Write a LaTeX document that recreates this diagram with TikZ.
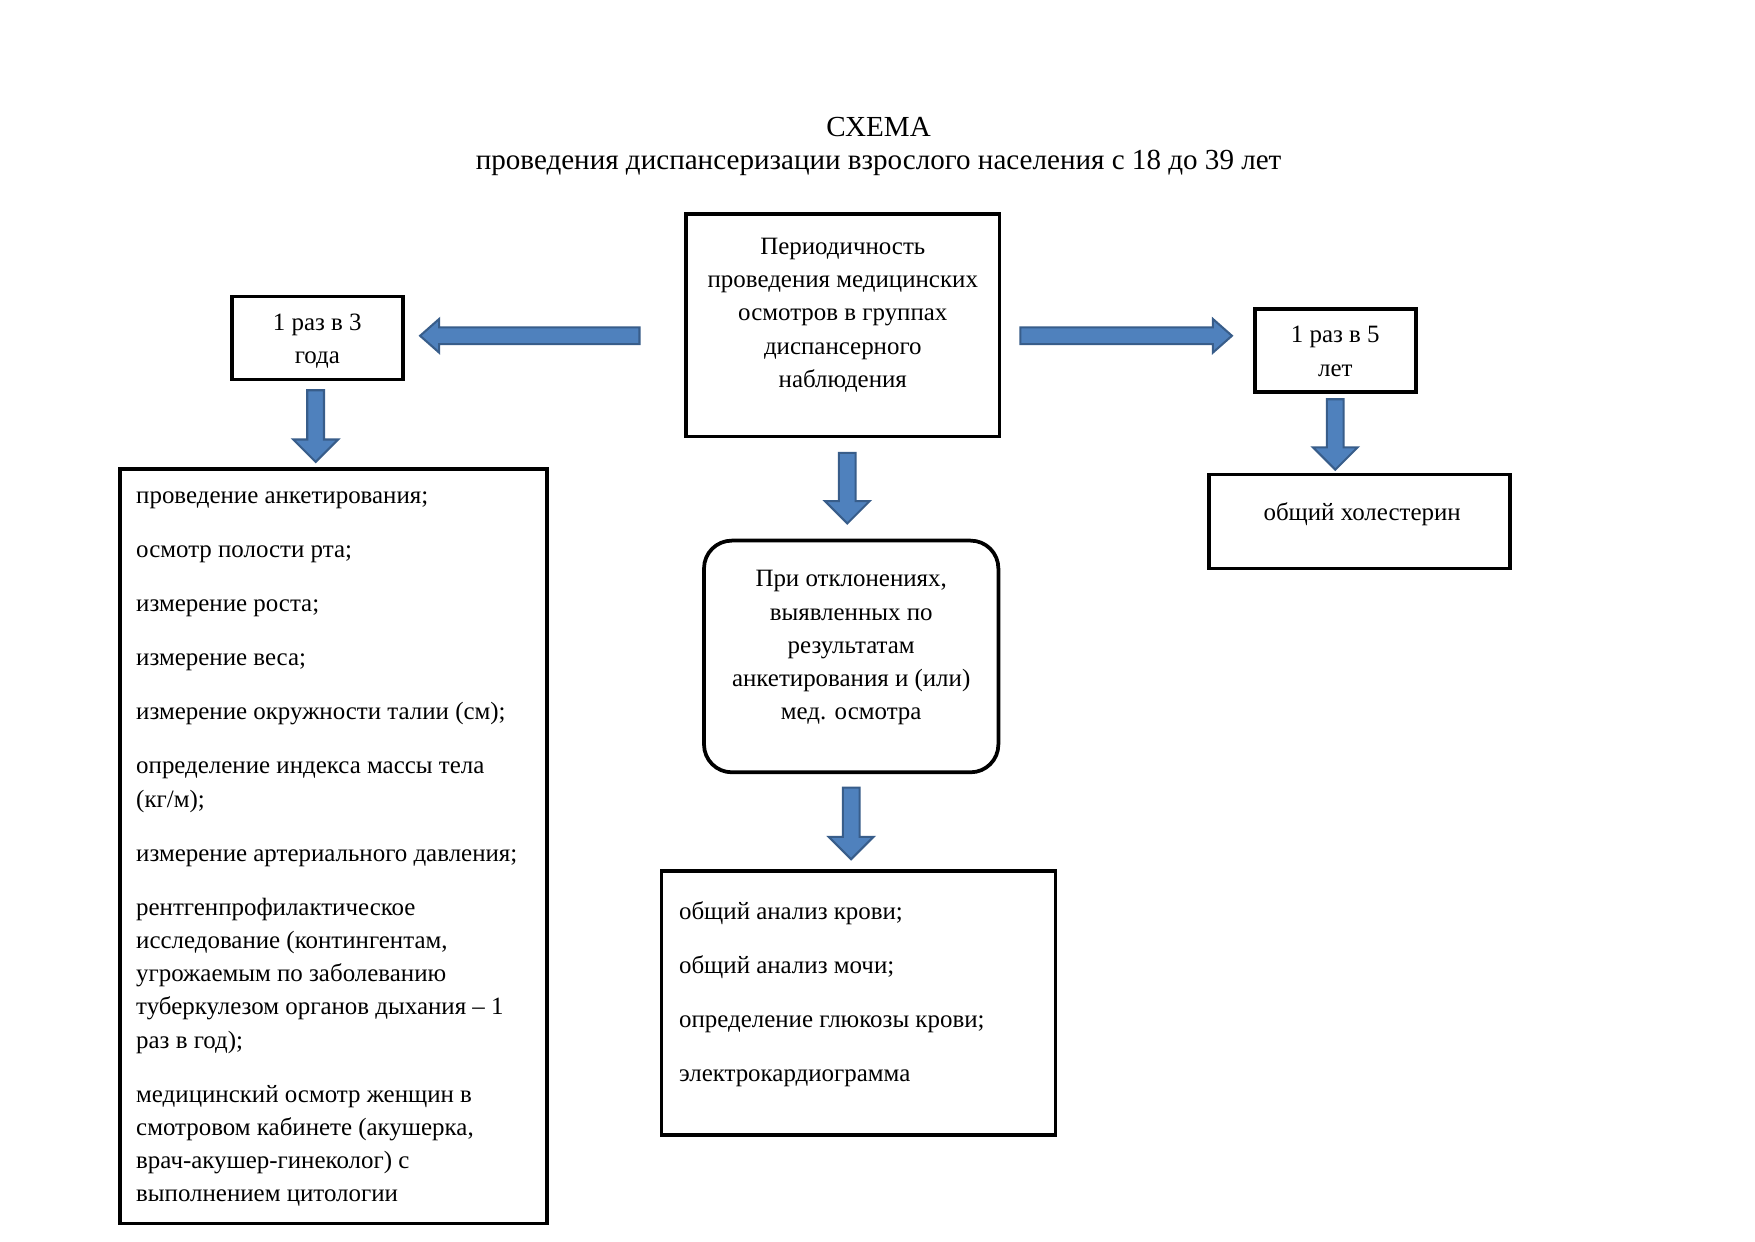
\documentclass[tikz,border=0pt]{standalone}
\usepackage{fontspec}
\setmainfont{Liberation Serif}
\usetikzlibrary{positioning, calc}
\definecolor{arrowblue}{HTML}{4F81BD}
\definecolor{arrowedge}{HTML}{385D8A}
\newcommand{\pu}{0.018941cm}
% block arrow: start, angle, length, half head, head length
\newcommand{\blockarrow}[5]{%
  \begin{scope}[shift={#1}, rotate=#2]
    \filldraw[fill=arrowblue, draw=arrowedge, line width=1pt]
      (0,-7.5) -- ({#3-#5},-7.5) -- ({#3-#5},-#4) -- (#3,0)
      -- ({#3-#5},#4) -- ({#3-#5},7.5) -- (0,7.5) -- cycle;
  \end{scope}}

\begin{document}
\begin{tikzpicture}[x=\pu, y=-\pu,
  frame/.style={draw, line width=1.8pt, inner sep=0pt},
  txt/.style={inner sep=0pt, font=\fontsize{12}{16}\selectfont}]
  \useasboundingbox[fill=white] (0,0) rectangle (1568,1109);

  % Title
  \node[txt, font=\fontsize{14}{16}\selectfont, align=center, anchor=north] (title) at (785,104)
    {СХЕМА\\проведения диспансеризации взрослого населения с 18 до 39 лет};

  % Boxes
  \node[frame, minimum width=280*\pu, minimum height=199*\pu] (per) at (753,290.5) {};
  \node[frame, minimum width=153*\pu, minimum height=74*\pu] (three) at (283.5,302) {};
  \node[frame, minimum width=144*\pu, minimum height=74*\pu] (five) at (1193,313) {};
  \node[frame, minimum width=382*\pu, minimum height=674*\pu] (exam3) at (298,756) {};
  \node[frame, rounded corners=0.47cm, minimum width=263*\pu, minimum height=207*\pu] (dev) at (760.5,586.5) {};
  \node[frame, minimum width=352*\pu, minimum height=236*\pu] (tests) at (767,896) {};
  \node[frame, minimum width=269*\pu, minimum height=84*\pu] (chol) at (1214.5,466) {};

  % Texts
  \node[txt, align=center, anchor=north] (per-t) at ($(per.north)+(0,23)$)
    {Периодичность\\проведения медицинских\\осмотров в группах\\диспансерного\\наблюдения};
  \node[txt, align=center, anchor=north] (three-t) at ($(three.north)+(0,17)$)
    {1 раз в 3\\года};
  \node[txt, align=center, anchor=north] (five-t) at ($(five.north)+(0,17)$)
    {1 раз в 5\\лет};
  \node[txt, align=left, anchor=north west] (exam3-t) at ($(exam3.north west)+(16,22)$)
    {проведение анкетирования;\\[10pt]
     осмотр полости рта;\\[10pt]
     измерение роста;\\[10pt]
     измерение веса;\\[10pt]
     измерение окружности талии (см);\\[10pt]
     определение индекса массы тела\\(кг/м);\\[10pt]
     измерение артериального давления;\\[10pt]
     рентгенпрофилактическое\\исследование (контингентам,\\угрожаемым по заболеванию\\туберкулезом органов дыхания -- 1\\раз в год);\\[10pt]
     медицинский осмотр женщин в\\смотровом кабинете (акушерка,\\врач-акушер-гинеколог) с\\выполнением цитологии};
  \node[txt, align=center, anchor=north] (dev-t) at ($(dev.north)+(0,28)$)
    {При отклонениях,\\выявленных по\\результатам\\анкетирования и (или)\\мед. осмотра};
  \node[txt, align=left, anchor=north west] (tests-t) at ($(tests.north west)+(17,29)$)
    {общий анализ крови;\\[10pt]
     общий анализ мочи;\\[10pt]
     определение глюкозы крови;\\[10pt]
     электрокардиограмма};
  \node[txt, align=center, anchor=north] (chol-t) at ($(chol.north)+(2.5,26)$)
    {общий холестерин};

  % Arrows
  \blockarrow{($(per.west)+(-40,9.5)$)}{180}{196}{15}{17}
  \blockarrow{($(per.east)+(17,9.5)$)}{0}{189}{15}{17}
  \blockarrow{($(three.south)+(-1.5,8)$)}{-90}{64}{20}{20}
  \blockarrow{($(per.south)+(4,13)$)}{-90}{63}{20}{20}
  \blockarrow{($(dev.south)+(0,12)$)}{-90}{64}{20}{20}
  \blockarrow{($(five.south)+(0,5)$)}{-90}{63}{20}{20}
\end{tikzpicture}
\end{document}
